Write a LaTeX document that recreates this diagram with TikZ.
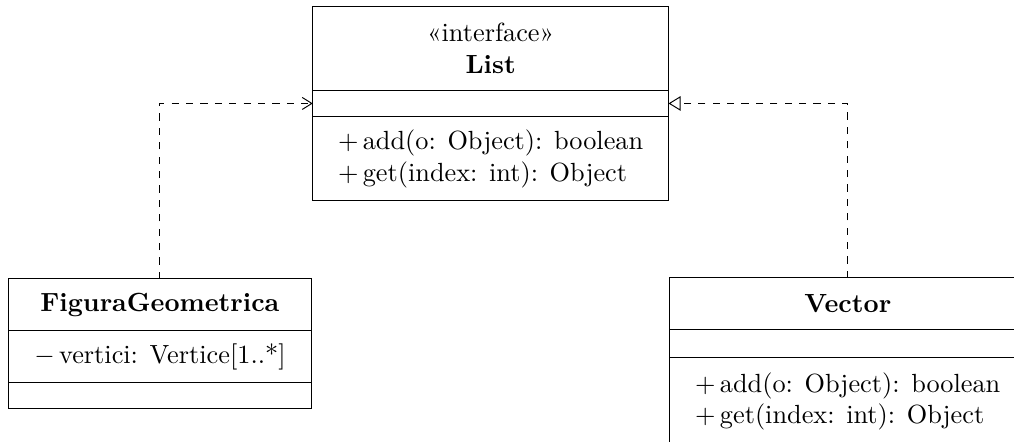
\documentclass[tikz,border=0pt]{standalone}
\usepackage{tikz}
\usetikzlibrary{arrows.meta,positioning}
\tikzset{
  classpart/.style={draw, inner sep=2pt, outer sep=0pt, align=center, font=\fontsize{10.95}{13.2}\selectfont},
  classops/.style={classpart, align=left},
  uses/.style={dashed, arrows={-Straight Barb[length=4pt, width=5pt]}},
  realizes/.style={dashed, arrows={-Triangle[open, length=5pt, width=6pt]}}
}

\begin{document}
\begin{tikzpicture}
\useasboundingbox (0,0) rectangle (14.85,6.46);

% interfaccia
\node[classpart, minimum width=5.21cm, minimum height=1.23cm, anchor=north west] (list) at (4.58,6.37) {«interface»\\\textbf{List}};
\node[classpart, minimum width=5.21cm, minimum height=0.39cm, below=0pt of list] (listattr) {};
\node[classops, minimum width=5.21cm, minimum height=1.23cm, below=0pt of listattr] (listops) {$+$\,add(o: Object): boolean\\$+$\,get(index: int): Object};

% classi
\node[classpart, minimum width=4.45cm, minimum height=0.76cm, anchor=north west] (fig) at (0.117,2.375) {\textbf{FiguraGeometrica}};
\node[classpart, minimum width=4.45cm, minimum height=0.76cm, below=0pt of fig] (figattr) {$-$\,vertici: Vertice[1..*]};
\node[classpart, minimum width=4.45cm, minimum height=0.38cm, below=0pt of figattr] (figops) {};

\node[classpart, minimum width=5.21cm, minimum height=0.76cm, anchor=north west] (vec) at (9.81,2.39) {\textbf{Vector}};
\node[classpart, minimum width=5.21cm, minimum height=0.40cm, below=0pt of vec] (vecattr) {};
\node[classops, minimum width=5.21cm, minimum height=1.3cm, below=0pt of vecattr] (vecops) {$+$\,add(o: Object): boolean\\$+$\,get(index: int): Object};

\draw[uses] (fig.north) |- (listattr.west);
\draw[realizes] (vec.north) |- (listattr.east);
\end{tikzpicture}
\end{document}
